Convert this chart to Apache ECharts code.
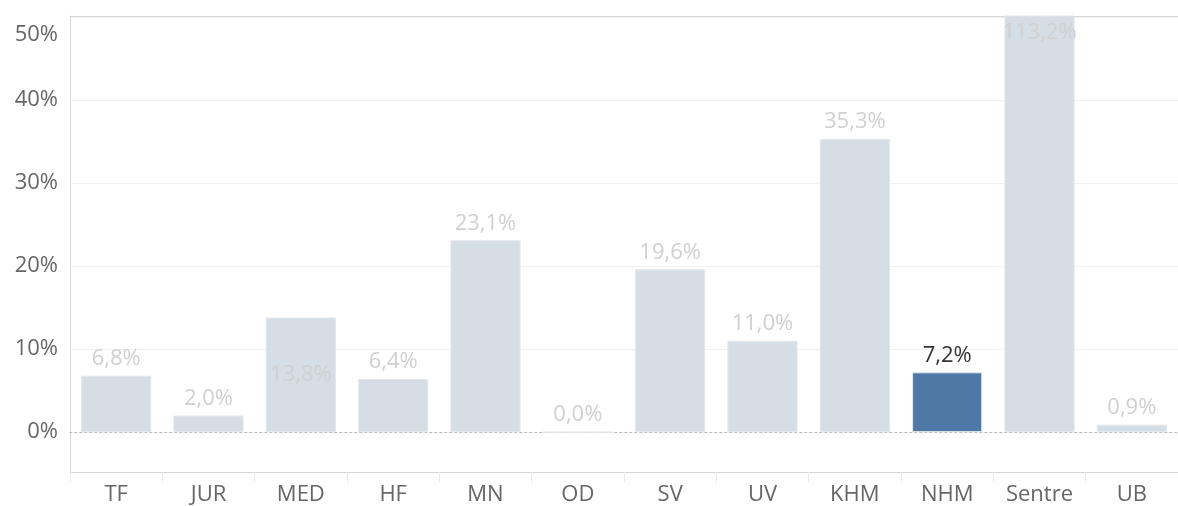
<!DOCTYPE html>
<html>
<head>
<meta charset="utf-8">
<script src="https://cdn.jsdelivr.net/npm/echarts@6/dist/echarts.min.js"></script>
<style>
  html, body { margin: 0; padding: 0; background: #fff; }
  #chart { width: 1178px; height: 506px; }
</style>
</head>
<body>
<div id="chart"></div>
<script>
// 类别和数值
const categories = ['TF', 'JUR', 'MED', 'HF', 'MN', 'OD', 'SV', 'UV', 'KHM', 'NHM', 'Sentre', 'UB']
const values = [6.8, 2.0, 13.8, 6.4, 23.1, 0.0, 19.6, 11.0, 35.3, 7.2, 113.2, 0.9]
const yTicks = [0, 10, 20, 30, 40, 50]
const highlight = 'NHM'

const fmt = v => v.toFixed(1).replace('.', ',') + '%'

const chart = echarts.init(document.getElementById('chart'))

const data = values.map((v, i) => {
  const name = categories[i]
  const item = { value: v }
  if (name === highlight) {
    item.itemStyle = { color: '#4e79a7' }
    item.label = { color: '#333' }
  }
  // MED 标签在柱内, Sentre 超出上限 标签在顶部内侧
  if (name === 'MED') item.label = { position: 'inside' }
  if (name === 'Sentre') item.label = { position: 'insideTop', distance: 6 }
  return item
})

chart.setOption({
  animation: false,
  textStyle: { fontFamily: 'Open Sans' },
  grid: { left: 70, right: 0, top: 16, bottom: 33 },
  xAxis: [
    {
      type: 'category',
      data: categories,
      position: 'bottom',
      axisLine: { onZero: false, lineStyle: { color: '#d6d6d6', width: 1 } },
      axisTick: { show: true, length: 11, lineStyle: { color: '#ececec' } },
      axisLabel: { color: '#666', fontSize: 22, margin: 12 }
    },
    {
      // 零线（虚点）
      type: 'category',
      data: categories,
      position: 'bottom',
      axisLine: { onZero: true, lineStyle: { color: '#b4b4b4', type: [1.5, 3.5], width: 1.2 } },
      axisTick: { show: false },
      axisLabel: { show: false }
    },
    {
      // 顶部边线
      type: 'category',
      data: categories,
      position: 'top',
      axisLine: { onZero: false, lineStyle: { color: '#d6d6d6', width: 1 } },
      axisTick: { show: false },
      axisLabel: { show: false }
    }
  ],
  yAxis: {
    type: 'value',
    min: -4.8,
    max: 50.1,
    axisLine: { show: true, onZero: false, lineStyle: { color: '#d6d6d6' } },
    axisTick: { show: false, customValues: yTicks },
    splitLine: { show: true, lineStyle: { color: '#f1f1f1' } },
    axisLabel: {
      customValues: yTicks,
      color: '#666',
      fontSize: 22,
      margin: 12,
      formatter: v => v === 50 ? '{top|50%}' : v + '%',
      rich: { top: { fontSize: 22, color: '#666', padding: [36, 0, 0, 0] } }
    }
  },
  series: [{
    type: 'bar',
    data,
    barWidth: '76%',
    itemStyle: { color: '#d5dde5', borderColor: '#e4e8ec', borderWidth: 1 },
    label: {
      show: true,
      position: 'top',
      distance: 6,
      color: '#d0d0d0',
      fontSize: 22,
      formatter: p => fmt(p.value)
    }
  }]
})
</script>
</body>
</html>
